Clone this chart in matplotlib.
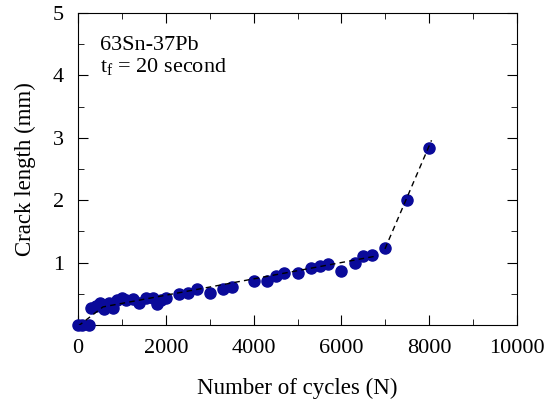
import matplotlib
matplotlib.use("Agg")
import matplotlib.pyplot as plt
from matplotlib.ticker import MultipleLocator

# datos
ciclos = [0, 100, 250, 300, 400, 500, 600, 700, 800, 900, 1000, 1100, 1250,
          1400, 1550, 1700, 1800, 1900, 2000, 2300, 2500, 2700, 3000, 3300,
          3500, 4000, 4300, 4500, 4700, 5000, 5300, 5500, 5700, 6000, 6300,
          6500, 6700, 7000, 7500, 8000]
grieta = [0.0, 0.0, 0.0, 0.28, 0.31, 0.35, 0.26, 0.35, 0.27, 0.40, 0.44, 0.40,
          0.41, 0.36, 0.44, 0.43, 0.34, 0.40, 0.44, 0.50, 0.52, 0.57, 0.51,
          0.58, 0.61, 0.71, 0.71, 0.79, 0.84, 0.84, 0.92, 0.94, 0.97, 0.87,
          1.00, 1.11, 1.12, 1.24, 2.00, 2.84]

# lineas de tendencia (tramos)
tramo1_x = [0, 570, 6830]
tramo1_y = [-0.02, 0.29, 1.11]
tramo2_x = [6990, 8050]
tramo2_y = [1.22, 2.96]

plt.rcParams['font.family'] = ['Liberation Serif', 'DejaVu Serif']
plt.rcParams['mathtext.fontset'] = 'stix'

fig = plt.figure(figsize=(5.49, 4.07), dpi=100)
ax = fig.add_axes([0.142, 0.2015, 0.8, 0.7665])

ax.plot(ciclos, grieta, 'o', color='#0a0a9a', markersize=8, zorder=3,
        clip_on=False)
ax.plot(tramo1_x, tramo1_y, '--', color='black', lw=1, dashes=(4, 3), zorder=4)
ax.plot(tramo2_x, tramo2_y, '--', color='black', lw=1, dashes=(4, 3), zorder=4)

ax.set_xlim(0, 10000)
ax.set_ylim(0, 5)
ax.xaxis.set_major_locator(MultipleLocator(2000))
ax.xaxis.set_minor_locator(MultipleLocator(1000))
ax.yaxis.set_major_locator(MultipleLocator(1))
ax.yaxis.set_minor_locator(MultipleLocator(0.5))
ax.set_yticks([1, 2, 3, 4, 5])
ax.tick_params(which='both', direction='in', top=True, right=True,
               labelsize=16)
ax.tick_params(which='major', length=7)
ax.tick_params(which='minor', length=4)
ax.tick_params(axis='x', pad=10)
ax.tick_params(axis='y', pad=10)

ax.set_xlabel('Number of cycles (N)', fontsize=16.5, labelpad=14)
ax.set_ylabel('Crack length (mm)', fontsize=16.5, labelpad=12)

ax.text(0.05, 0.881, '63Sn-37Pb', transform=ax.transAxes, fontsize=16,
        va='baseline')
ax.text(0.05, 0.811, r'$\mathregular{t_f}$ = 20 second', transform=ax.transAxes,
        fontsize=16, va='baseline')

fig.savefig('out.png', dpi=100)
